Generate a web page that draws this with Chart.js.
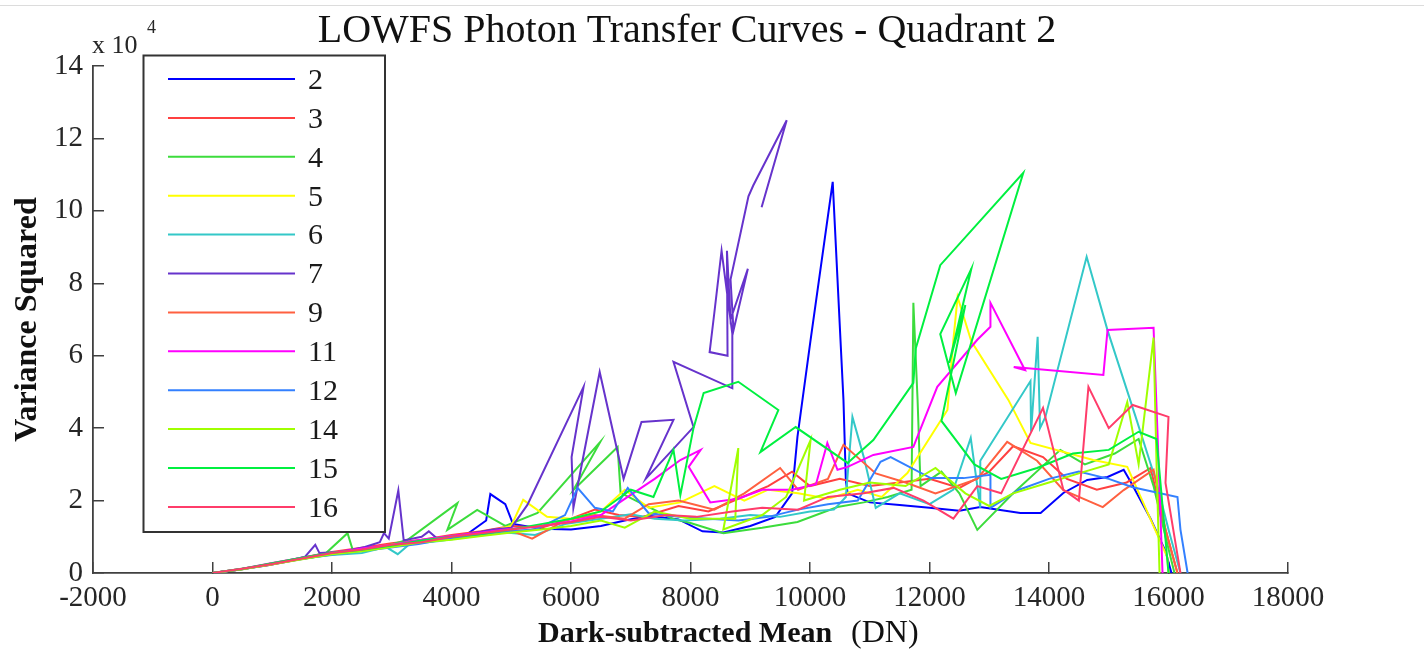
<!DOCTYPE html>
<html><head><meta charset="utf-8">
<script src="https://cdn.jsdelivr.net/npm/chart.js@4.4.1/dist/chart.umd.min.js"></script>
<style>
html,body{margin:0;padding:0;background:#fff;}
#wrap{position:relative;width:1424px;height:649px;}
#topline{position:absolute;left:0;top:5px;width:1424px;height:1px;background:#dcdcdc;}
canvas{display:block;}
</style></head><body>
<div id="wrap"><canvas id="c" width="1424" height="649"></canvas><div id="topline"></div></div>
<script>
// ---- data (x: dark-subtracted mean in DN, y: variance in units of 1e4) ----
const chartTitle = 'LOWFS Photon Transfer Curves - Quadrant 2';
const xTitle = 'Dark-subtracted Mean';
const xTitleUnit = '(DN)';
const yTitle = 'Variance Squared';
const yExponent = '4';
const xTickValues = [-2000,0,2000,4000,6000,8000,10000,12000,14000,16000,18000];
const yTickValues = [0,2,4,6,8,10,12,14];
const seriesNames = ['2','3','4','5','6','7','9','11','12','14','15','16'];

const s2 = [[0,0],[400,0.08],[900,0.21],[1400,0.36],[1900,0.5],[2400,0.6],[2900,0.72],[3300,0.8],[3800,0.92],[4200,1.0],[4580,1.45],[4650,2.18],[4900,1.9],[5030,1.35],[5500,1.22],[6000,1.2],[6500,1.3],[6900,1.45],[7300,1.58],[7800,1.48],[8200,1.15],[8550,1.12],[9000,1.3],[9420,1.55],[9700,2.2],[9790,3.76],[10010,6.44],[10380,10.8],[10510,6.44],[10560,4.78],[10600,2.55],[10630,2.2],[11000,1.95],[11500,1.88],[12000,1.8],[12500,1.72],[12850,1.82],[13520,1.66],[13860,1.66],[14240,2.21],[14640,2.57],[14980,2.65],[15250,2.85],[15380,2.48],[15700,1.5],[15950,0.6],[16050,0]];
const s3 = [[0,0],[500,0.1],[1000,0.27],[1500,0.42],[2000,0.58],[2500,0.7],[3000,0.82],[3500,0.92],[4000,1.05],[4500,1.15],[5000,1.3],[5500,1.25],[6000,1.5],[6400,1.75],[6800,1.6],[7200,1.55],[7800,1.85],[8300,1.7],[8800,2.05],[9300,2.4],[9700,2.8],[10000,2.4],[10500,2.6],[11000,2.4],[11500,2.5],[12000,2.6],[12500,2.35],[13000,2.8],[13400,3.5],[13900,3.2],[14300,2.6],[14800,2.3],[15300,2.5],[15700,2.9],[15900,1.5],[16150,0]];
const s4 = [[0,0],[400,0.1],[900,0.22],[1400,0.38],[1900,0.55],[2260,1.1],[2350,0.62],[2800,0.7],[3260,0.91],[4100,1.93],[3930,1.19],[4430,1.74],[4900,1.3],[5440,1.66],[6490,3.62],[6040,2.29],[6780,3.48],[6830,2.21],[7200,1.9],[7700,1.5],[8000,1.38],[8550,1.1],[9200,1.25],[9790,1.41],[10460,1.82],[10900,1.95],[11300,2.1],[11700,2.3],[11730,7.46],[11800,4.8],[11850,2.4],[12200,2.8],[12500,2.2],[12800,1.19],[13400,2.2],[14190,3.4],[14600,3.0],[15100,3.3],[15500,3.7],[15750,2.4],[15950,1.0],[16100,0]];
const s5 = [[0,0],[500,0.11],[1000,0.26],[1500,0.4],[2000,0.53],[2500,0.65],[3000,0.78],[3500,0.88],[4000,0.98],[4500,1.1],[5000,1.3],[5200,2.02],[5600,1.55],[6000,1.5],[6500,1.7],[6900,2.3],[7300,1.8],[7830,1.95],[8400,2.4],[8900,2.0],[9300,2.3],[9800,2.2],[10300,2.05],[10800,2.3],[11200,2.1],[11630,2.76],[12300,4.5],[12400,6.44],[12470,7.62],[12700,6.4],[13320,4.78],[13690,3.59],[14740,3.12],[15310,2.93],[15980,0.44],[16000,0]];
const s6 = [[0,0],[500,0.1],[1000,0.25],[1500,0.4],[2000,0.5],[2500,0.55],[2900,0.72],[3100,0.52],[3300,0.8],[3800,0.88],[4300,1.0],[4900,1.12],[5400,1.05],[5900,1.35],[6500,1.5],[7000,1.62],[7400,1.5],[7900,1.45],[8500,1.5],[9000,1.6],[9500,1.55],[10000,1.7],[10400,1.75],[10600,2.1],[10710,4.31],[10900,3.2],[11100,1.8],[11500,2.2],[12000,1.9],[12400,2.3],[12690,3.73],[12850,1.8],[12850,3.1],[13690,5.3],[13700,3.9],[13810,6.52],[13850,4.0],[13940,4.31],[14630,8.73],[14980,6.7],[15450,4.31],[15800,2.5],[16000,1.2],[16200,0]];
const s7 = [[0,0],[350,0.07],[750,0.18],[1150,0.3],[1550,0.45],[1720,0.78],[1790,0.55],[2150,0.58],[2550,0.72],[2800,0.85],[2870,1.1],[2950,0.95],[3110,2.28],[3200,0.9],[3500,1.0],[3620,1.15],[3760,0.95],[4200,1.05],[4700,1.2],[5000,1.25],[5270,1.88],[6210,5.14],[6010,3.2],[6040,1.8],[6480,5.55],[6880,2.6],[7180,4.17],[7715,4.23],[7250,2.6],[8050,4.03],[7715,5.83],[8700,5.1],[8700,6.6],[8520,8.9],[8400,7.2],[8320,6.1],[8620,6.0],[8610,8.9],[8670,7.0],[8960,8.4],[8720,6.7],[8670,8.1],[8970,10.4],[9050,10.7],[9610,12.5],[9190,10.1]];
const s9 = [[0,0],[450,0.1],[950,0.22],[1450,0.38],[1950,0.52],[2450,0.62],[2950,0.75],[3450,0.85],[3950,0.95],[4450,1.05],[4950,1.2],[5350,0.95],[5900,1.45],[6400,1.6],[6900,1.5],[7300,1.9],[7800,2.0],[8400,1.75],[8900,2.2],[9500,2.9],[9800,2.3],[10300,2.6],[10560,3.54],[11100,2.75],[11600,2.5],[12100,2.2],[12800,2.6],[13300,3.62],[13800,3.1],[14240,2.29],[14900,1.82],[15250,2.29],[15750,2.85],[15950,1.2],[16150,0]];
const s11 = [[0,0],[500,0.12],[1000,0.28],[1500,0.42],[2000,0.56],[2500,0.68],[3000,0.78],[3500,0.92],[4000,1.02],[4500,1.12],[5000,1.22],[5500,1.3],[6000,1.42],[6500,1.6],[6950,2.1],[7400,2.6],[7830,3.12],[8170,3.4],[7970,2.93],[8330,1.95],[8800,2.05],[9200,2.3],[9700,2.3],[10100,2.45],[10290,3.59],[10460,2.85],[10630,2.93],[11060,3.26],[11730,3.48],[12130,5.14],[12800,6.44],[13020,6.8],[13020,7.46],[13600,5.6],[13410,5.69],[14910,5.47],[14980,6.71],[15750,6.77],[15820,3.67],[15900,0]];
const s12 = [[0,0],[450,0.1],[950,0.24],[1450,0.38],[1950,0.5],[2450,0.6],[2950,0.7],[3450,0.8],[3950,0.95],[4400,1.05],[4900,1.15],[5400,1.2],[5900,1.6],[6110,2.35],[6400,1.8],[6700,1.7],[6950,2.35],[7300,1.65],[7800,1.55],[8300,1.5],[8800,1.45],[9300,1.55],[9800,1.75],[10300,1.9],[10800,2.0],[11180,3.07],[11350,3.2],[12020,2.62],[12570,2.62],[13020,2.71],[13020,1.8],[13500,2.3],[14000,2.6],[14500,2.8],[15000,2.6],[15400,2.37],[16150,2.1],[16200,1.2],[16320,0]];
const s14 = [[0,0],[500,0.1],[1000,0.24],[1500,0.38],[2000,0.52],[2500,0.6],[3000,0.72],[3500,0.85],[4000,0.92],[4500,1.02],[5000,1.12],[5500,1.2],[6000,1.3],[6500,1.45],[6900,1.25],[7400,1.7],[8000,1.5],[8750,1.5],[8800,3.45],[8550,1.2],[9200,1.6],[9600,2.1],[10010,3.67],[9900,2.0],[10500,2.3],[11000,2.5],[11600,2.4],[12100,2.9],[12600,2.2],[13000,1.85],[13400,2.2],[14000,2.5],[14500,2.75],[15000,3.0],[15310,4.72],[15500,3.0],[15750,6.5],[15800,3.0],[15850,0]];
const s15 = [[0,0],[500,0.12],[1000,0.27],[1500,0.42],[2000,0.56],[2500,0.64],[3000,0.76],[3500,0.9],[4000,1.0],[4500,1.08],[5000,1.2],[5500,1.35],[6000,1.5],[6500,1.7],[7000,2.3],[7380,2.1],[7715,3.4],[7830,2.15],[8050,4.0],[8220,4.97],[8800,5.28],[9470,4.5],[9170,3.34],[9760,4.03],[10630,3.04],[11060,3.67],[11730,5.25],[11770,6.2],[12180,8.5],[13570,11.05],[12440,4.97],[12180,6.6],[12700,8.4],[12330,5.8],[12600,7.4],[12200,4.2],[12750,3.0],[13200,2.6],[13800,2.9],[14400,3.3],[15000,3.4],[15500,3.9],[15800,3.7],[16000,0]];
const s16 = [[0,0],[500,0.12],[1000,0.25],[1500,0.4],[2000,0.55],[2500,0.65],[3000,0.78],[3500,0.85],[4000,1.0],[4500,1.1],[5000,1.2],[5500,1.3],[6000,1.4],[6500,1.55],[7000,1.45],[7600,1.6],[8100,1.55],[8700,1.7],[9200,1.8],[9800,1.75],[10300,2.1],[10900,2.2],[11400,2.35],[11900,2.0],[12400,1.5],[12800,2.4],[13200,2.2],[13900,4.56],[14240,2.3],[14500,2.0],[14660,5.14],[15000,4.0],[15400,4.64],[16000,4.31],[15950,2.49],[16150,0.5],[16200,0]];

const seriesData = [s2,s3,s4,s5,s6,s7,s9,s11,s12,s14,s15,s16];
const seriesColors = ['#0000FF','#FF4040','#3CDC3C','#FFFF00','#33C8C8','#6633CC','#FF6040','#FF00FF','#3380FF','#A0FF00','#00F040','#FF3C6A'];

const SERIF = '"Liberation Serif","Times New Roman",serif';
const AXIS = '#404040';

const datasets = seriesNames.map((name, i) => ({
  label: name,
  data: seriesData[i],
  borderColor: seriesColors[i],
  backgroundColor: seriesColors[i],
  borderWidth: 2,
  pointRadius: 0,
  pointHoverRadius: 0,
  showLine: true,
  fill: false,
  tension: 0,
  order: seriesNames.length - i
}));

const decorPlugin = {
  id: 'decor',
  afterDatasetsDraw(chart) {
    const ctx = chart.ctx;
    ctx.save();
    // legend box
    const bx = 143.5, by = 55.5, bw = 241.5, bh = 476.5;
    ctx.fillStyle = '#ffffff';
    ctx.fillRect(bx, by, bw, bh);
    ctx.strokeStyle = '#333333';
    ctx.lineWidth = 2;
    ctx.strokeRect(bx, by, bw, bh);
    ctx.font = '30px ' + SERIF;
    ctx.textAlign = 'left';
    ctx.textBaseline = 'middle';
    chart.data.datasets.forEach((ds, i) => {
      const y = 79 + i * 38.9;
      ctx.strokeStyle = ds.borderColor;
      ctx.lineWidth = 2;
      ctx.beginPath();
      ctx.moveTo(168, y);
      ctx.lineTo(295, y);
      ctx.stroke();
      ctx.fillStyle = '#1a1a1a';
      ctx.fillText(ds.label, 308, y + 2);
    });
    ctx.restore();
  },
  afterDraw(chart) {
    const ctx = chart.ctx;
    ctx.save();
    ctx.fillStyle = '#111111';
    ctx.textBaseline = 'alphabetic';
    ctx.textAlign = 'center';
    ctx.font = '40px ' + SERIF;
    ctx.fillText(chartTitle, 687, 42);
    ctx.textAlign = 'left';
    ctx.font = '26px ' + SERIF;
    ctx.fillStyle = '#262626';
    ctx.fillText('x 10', 92, 53);
    ctx.font = '18px ' + SERIF;
    ctx.fillText(yExponent, 147, 33);
    ctx.fillStyle = '#111111';
    ctx.font = 'bold 30px ' + SERIF;
    ctx.fillText(xTitle, 538, 642);
    ctx.font = '32px ' + SERIF;
    ctx.fillText(xTitleUnit, 851, 642);
    ctx.restore();
  }
};

new Chart(document.getElementById('c'), {
  type: 'scatter',
  data: { datasets },
  options: {
    responsive: false,
    animation: false,
    events: [],
    layout: { padding: { left: 0, right: 136, top: 66, bottom: 0 } },
    plugins: { legend: { display: false }, tooltip: { enabled: false }, title: { display: false } },
    scales: {
      x: {
        type: 'linear', min: -2000, max: 18000,
        afterBuildTicks: s => { s.ticks = xTickValues.map(v => ({ value: v })); },
        afterFit: s => { s.height = 76; },
        ticks: { font: { family: SERIF, size: 29 }, color: '#262626', padding: 19, maxRotation: 0, autoSkip: false, callback: v => String(v) },
        grid: { drawOnChartArea: false, drawTicks: true, tickLength: -11, color: AXIS, lineWidth: 1.5 },
        border: { display: true, color: AXIS, width: 1.8 }
      },
      y: {
        type: 'linear', min: 0, max: 14,
        afterBuildTicks: s => { s.ticks = yTickValues.map(v => ({ value: v })); },
        afterFit: s => { s.width = 93; },
        ticks: { font: { family: SERIF, size: 29 }, color: '#262626', padding: 21, callback: v => String(v) },
        grid: { drawOnChartArea: false, drawTicks: true, tickLength: -11, color: AXIS, lineWidth: 1.5 },
        border: { display: true, color: AXIS, width: 1.8 },
        title: { display: true, text: yTitle, font: { family: SERIF, size: 32, weight: 'bold' }, color: '#111111', padding: { top: 9, bottom: 0 } }
      }
    }
  },
  plugins: [decorPlugin]
});
</script>
</body></html>
